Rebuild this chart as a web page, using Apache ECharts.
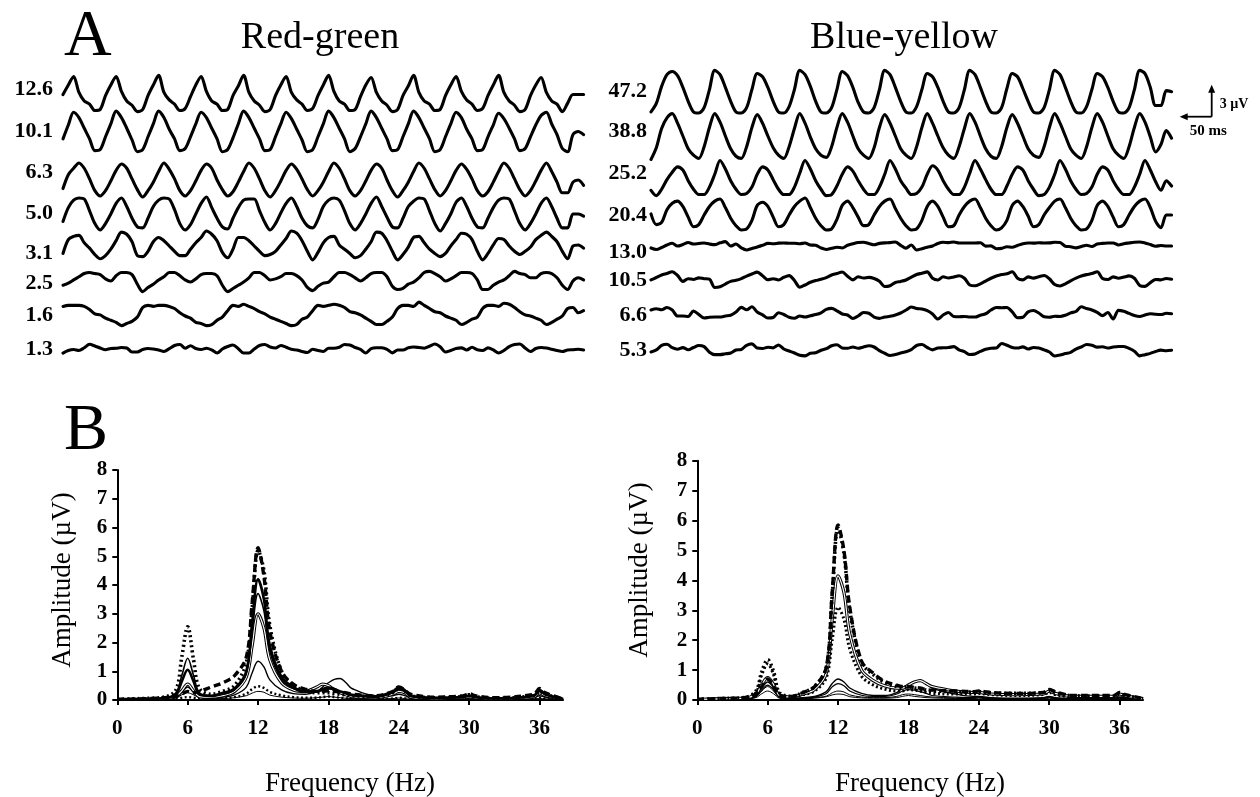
<!DOCTYPE html>
<html><head><meta charset="utf-8">
<script src="https://cdn.jsdelivr.net/npm/echarts@6.0.0/dist/echarts.min.js"></script>
<style>html,body{margin:0;padding:0;background:#fff}#c{width:1260px;height:797px}</style>
</head><body><div id="c"></div>
<script>
// ---------- Panel A : steady-state VEP traces (µV), one sample every 8.3 ms ----------
const sampleStepMs = 8.3;
const rgContrastLabels = ['12.6','10.1','6.3','5.0','3.1','2.5','1.6','1.3'];
const byContrastLabels = ['47.2','38.8','25.2','20.4','13.0','10.5','6.6','5.3'];

const rg126 = [-0.1,0.8,
1.6,0.1,-0.7,-1.0,-1.6,-1.5,-0.2,0.8, 1.6,0.2,-0.7,-1.1,-1.7,-1.5,-0.2,0.8,
1.7,0.1,-0.6,-1.0,-1.6,-1.4,-0.3,0.8, 1.6,0.2,-0.7,-1.0,-1.6,-1.5,-0.2,0.7,
1.7,0.1,-0.7,-1.1,-1.7,-1.5,-0.2,0.8, 1.6,0.1,-0.6,-1.0,-1.6,-1.4,-0.2,0.8,
1.7,0.2,-0.7,-1.0,-1.6,-1.5,-0.3,0.8, 1.5,0.1,-0.7,-1.1,-1.7,-1.5,-0.2,0.7,
1.7,0.1,-0.7,-1.0,-1.6,-1.5,-0.2,0.8, 1.6,0.2,-0.6,-1.0,-1.6,-1.4,-0.2,0.8,
1.7,0.1,-0.7,-1.1,-1.7,-1.5,-0.2,0.8,
1.5,0.1,-0.7,-1.0,-1.7,-0.9,-0.1,-0.1,-0.1];
const rg101 = [-0.6,0.7,
1.9,1.4,0.4,-0.6,-1.7,-1.6,-0.4,0.8, 2.0,1.4,0.4,-0.7,-1.8,-1.6,-0.4,0.8,
2.0,1.4,0.3,-0.6,-1.7,-1.5,-0.4,0.8, 1.9,1.4,0.4,-0.6,-1.8,-1.6,-0.5,0.8,
2.0,1.4,0.4,-0.6,-1.7,-1.6,-0.4,0.8, 1.9,1.3,0.3,-0.7,-1.8,-1.6,-0.4,0.8,
2.0,1.4,0.4,-0.6,-1.8,-1.5,-0.4,0.8, 2.0,1.4,0.4,-0.6,-1.7,-1.6,-0.4,0.8,
2.0,1.4,0.4,-0.6,-1.8,-1.6,-0.4,0.8, 1.9,1.4,0.3,-0.6,-1.7,-1.6,-0.4,0.7,
1.8,1.3,0.4,-0.6,-1.7,-1.5,-0.4,0.7,
1.6,1.9,0.8,-0.2,-1.5,-1.8,-0.2,0.1,-0.2];
const rg63 = [-0.8,0.5,1.1,
1.6,1.1,0.1,-1.0,-1.5,-1.0,-0.1,0.9, 1.5,1.1,0.1,-0.9,-1.6,-1.0,-0.2,0.8,
1.6,1.0,0.1,-1.0,-1.5,-1.0,-0.1,0.9, 1.5,1.1,0.0,-0.9,-1.5,-1.1,-0.2,0.8,
1.6,1.1,0.1,-1.0,-1.6,-1.0,-0.1,0.9, 1.5,1.0,0.1,-0.9,-1.5,-1.0,-0.2,0.8,
1.6,1.1,0.1,-1.0,-1.5,-1.0,-0.1,0.9, 1.5,1.1,0.0,-1.0,-1.6,-1.0,-0.2,0.8,
1.6,1.1,0.1,-0.9,-1.5,-1.0,-0.1,0.9, 1.5,1.0,0.1,-1.0,-1.5,-1.1,-0.2,0.8,
1.6,1.1,0.1,-0.9,-1.5,-1.0,-0.1,0.9,
1.6,0.8,-0.2,-1.2,-1.2,-0.2,0.0,-0.5];
const rg50 = [-0.7,0.6,1.3,
1.5,1.4,0.3,-0.9,-1.5,-0.9,0.0,1.0,1.5,0.7,-0.4,-1.2,-1.3,-0.4,0.7,1.3,
1.5,1.4,0.4,-0.9,-1.5,-1.0,0.0,1.0,1.6,0.6,-0.4,-1.2,-1.4,-0.4,0.6,1.3,
1.4,1.4,0.3,-0.8,-1.5,-0.9,0.1,1.0,1.5,0.7,-0.4,-1.1,-1.3,-0.5,0.7,1.3,
1.5,1.3,0.3,-0.9,-1.5,-0.9,0.0,1.0,1.6,0.7,-0.3,-1.2,-1.3,-0.4,0.7,1.2,
1.5,1.4,0.3,-0.9,-1.6,-0.9,0.0,1.1,1.5,0.7,-0.4,-1.2,-1.3,-0.4,0.6,1.3,
1.5,1.4,0.3,-0.9,-1.5,-0.9,0.0,1.0,
1.5,0.7,-0.4,-1.3,-1.3,0.0,0.0,-0.2];
const rg31 = [-0.7,0.6,0.9,1.0,0.3,-0.2,-0.8,-1.2,-0.9,-0.3,
0.5,1.3,1.1,0.4,-0.9,-1.0,-0.5,0.4,0.8,0.5,
0.0,-0.5,-0.9,-0.9,-0.3,0.3,0.8,1.4,1.1,0.5,
-0.6,-1.1,-0.3,0.8,0.8,0.5,0.0,-0.5,-0.9,-0.8,
-0.5,0.1,0.7,1.4,1.2,0.5,-0.5,-1.3,-0.6,0.3,
0.8,0.9,0.1,-0.3,-0.7,-1.1,-0.9,-0.3,0.4,1.3,
1.2,0.5,-0.5,-1.3,-0.8,-0.1,0.8,0.9,0.3,-0.3,
-0.7,-1.0,-0.7,0.0,0.6,1.2,1.1,0.6,-0.5,-1.3,
-0.7,0.1,0.7,0.6,0.0,-0.5,-0.8,-0.5,-0.1,0.6,
1.0,1.3,0.9,0.4,-0.5,-1.2,0.0,0.1,-0.2];
const rg25 = [-0.4,-0.2,0.1,0.4,0.7,0.8,0.7,0.6,0.2,0,
0.5,0.8,0.8,0.6,-0.3,-1.0,-0.6,-0.3,0.1,0.4,
0.8,0.8,0.5,0.1,-0.1,0.2,0.6,0.7,0.7,0.5,
-0.4,-1.0,-0.7,-0.4,-0.1,0.3,0.8,0.8,0.5,0.1,
0.2,0.4,0.7,0.7,0.5,0.1,-0.6,-0.9,-0.5,-0.2,
-0.1,0.4,0.8,0.8,0.6,0.3,0,0.3,0.7,0.8,
0.8,0.4,-0.5,-0.8,-0.7,-0.3,-0.1,0.3,0.8,0.9,
0.7,0.4,0,0.2,0.5,0.8,0.8,0.7,0.1,-0.8,
-0.8,-0.4,-0.1,0.1,0.5,0.9,0.7,0.6,0.3,0.3,
0.7,0.8,0.7,0.3,-0.4,-0.8,0,0.3,0.1];
const rg16 = [0.9,1.0,1.0,1.0,0.9,0.6,0.2,0.1,-0.2,-0.4,
-0.6,-0.9,-0.7,-0.5,-0.1,0.8,1.0,0.9,1.0,1.0,
0.9,0.7,0.3,0,-0.2,-0.6,-0.7,-0.9,-0.8,-0.4,
-0.1,0.5,1.0,0.9,1.1,0.9,0.7,0.4,0.2,-0.1,
-0.3,-0.5,-0.7,-0.9,-0.8,-0.3,-0.1,0.5,1.0,0.9,
1.0,1.1,1.0,0.8,0.4,0.3,0.1,-0.2,-0.5,-0.8,
-0.8,-0.5,-0.1,0.7,1.0,1.0,0.9,1.3,1.0,0.7,
0.4,0.3,0,-0.2,-0.4,-0.8,-0.6,-0.3,-0.1,0.7,
1.0,1.0,0.9,1.2,1.1,0.8,0.4,0.1,0,-0.2,
-0.4,-0.8,-0.6,-0.3,0,0.7,0.8,0.3,0.5];
const rg13 = [-0.38,-0.14,-0.05,-0.14,0.12,0.44,0.28,0.09,-0.07,0.05,
0.07,0.14,0.09,-0.28,-0.28,-0.05,0.05,0,-0.09,-0.23,
0.03,0.33,0.42,0.07,0.31,0.05,-0.05,0.07,-0.09,-0.38,
0,0.23,0.38,0.03,-0.38,-0.38,0,0.33,0.42,0.19,
0.09,0.33,0.17,-0.03,-0.09,-0.23,-0.33,-0.03,-0.14,-0.23,
0.07,0.07,0.17,0.42,0.38,0.14,-0.03,-0.38,0.03,0.12,
0.11,-0.03,-0.36,-0.09,-0.09,0.11,0.19,0.14,0.07,0.26,
0.47,0.21,-0.28,-0.14,0.05,0.11,-0.09,0.16,-0.07,-0.14,
0.11,-0.09,-0.38,-0.14,0.23,0.42,0.47,0.09,-0.23,0.05,
0.14,0.09,-0.02,-0.14,-0.23,-0.09,-0.07,-0.03,-0.09];

const by472 = [-1.9,-1.1,0.5,1.6,
1.9,1.5,0.4,-0.9,-1.9,-2.0,-1.5,0.2, 2.0,1.6,0.4,-0.9,-1.9,-2.0,-1.5,0.2,
1.7,1.4,0.4,-0.9,-1.9,-2.0,-1.4,0.2, 2.0,1.6,0.5,-0.9,-1.9,-2.0,-1.5,0.2,
1.9,1.5,0.4,-1.0,-1.9,-2.0,-1.5,0.2, 2.0,1.6,0.4,-0.9,-1.9,-2.0,-1.4,0.2,
1.7,1.4,0.4,-0.9,-1.9,-2.0,-1.5,0.2, 2.0,1.6,0.4,-0.9,-1.9,-2.0,-1.5,0.3,
1.7,1.4,0.3,-0.9,-1.9,-2.0,-1.5,0.2, 2.0,1.6,0.4,-0.9,-1.9,-2.0,-1.4,0.2,
1.7,1.4,0.4,-0.9,-1.9,-2.0,-1.5,0.2,
2.0,1.7,0.4,-1.3,-1.3,0.1,0.0];
const by388 = [-2.2,-1.1,0.7,1.7,
2.1,1.2,0.0,-1.2,-1.8,-2.1,-1.0,0.8, 2.1,1.3,0.0,-1.2,-1.9,-2.1,-1.0,0.8,
2.0,1.2,0.0,-1.1,-1.8,-2.1,-1.0,0.7, 2.1,1.2,-0.1,-1.2,-1.8,-2.0,-1.0,0.8,
2.1,1.3,0.0,-1.2,-1.8,-2.1,-1.1,0.8, 2.0,1.2,0.0,-1.2,-1.8,-2.1,-1.0,0.8,
2.1,1.2,0.0,-1.1,-1.8,-2.1,-1.0,0.7, 2.1,1.3,0.0,-1.2,-1.9,-2.1,-1.0,0.8,
2.0,1.2,0.0,-1.2,-1.8,-2.0,-1.0,0.8, 2.1,1.2,0.0,-1.2,-1.8,-2.1,-1.0,0.8,
2.1,1.3,0.0,-1.2,-1.8,-2.1,-1.0,0.8,
2.1,1.3,-0.1,-1.5,-0.8,0.5,-0.2];
const by252 = [-1.2,-1.7,-1.1,-0.2,0.5,
1.0,0.7,-0.3,-1.1,-1.6,-1.6,-0.9,0.3, 1.6,0.8,-0.3,-1.1,-1.6,-1.5,-0.9,0.3,
1.0,0.7,-0.2,-1.1,-1.6,-1.6,-0.9,0.4, 1.6,0.8,-0.3,-1.1,-1.7,-1.6,-0.8,0.3,
1.0,0.6,-0.3,-1.1,-1.6,-1.6,-0.9,0.3, 1.6,0.8,-0.3,-1.0,-1.6,-1.5,-0.9,0.3,
1.1,0.7,-0.3,-1.1,-1.6,-1.6,-0.9,0.4, 1.6,0.8,-0.2,-1.1,-1.6,-1.6,-0.8,0.3,
1.0,0.7,-0.3,-1.1,-1.7,-1.6,-0.9,0.3, 1.6,0.8,-0.3,-1.1,-1.6,-1.5,-0.9,0.3,
1.0,0.7,-0.3,-1.1,-1.6,-1.6,-0.9,0.3,
1.6,0.7,-0.4,-1.2,-0.3,-0.8];
const by204 = [0.1,-0.9,-0.7,0.5,1.1,
1.3,0.8,-0.2,-1.1,-0.9,0.0,0.8,1.3,1.5,0.7,-0.3,-1.0,-1.4,-1.3,-0.5,0.9,
1.2,0.8,-0.2,-1.1,-0.9,0.0,0.8,1.3,1.6,0.7,-0.3,-1.0,-1.4,-1.3,-0.4,0.9,
1.3,0.7,-0.2,-1.0,-0.9,0.0,0.8,1.3,1.5,0.6,-0.3,-1.0,-1.4,-1.3,-0.5,0.8,
1.3,0.8,-0.2,-1.1,-1.0,0.0,0.8,1.3,1.5,0.7,-0.3,-1.0,-1.4,-1.2,-0.5,0.9,
1.3,0.8,-0.1,-1.1,-0.9,0.0,0.7,1.3,1.5,0.7,-0.3,-1.0,-1.4,-1.3,-0.5,0.9,
1.3,0.8,-0.2,-1.1,-0.9,0.0,0.8,1.3,1.5,0.7,-0.6,
-1.2,0.0,0.0];
const by130 = [-0.09,-0.23,-0.05,0.19,0.35,0.09,0.23,0.42,0.28,0.33,
0.38,0.28,0.22,0.39,0.5,0.09,0.28,-0.09,-0.28,-0.14,
0,0.16,0.34,0.3,0.36,0.38,0.35,0.35,0.3,0.38,
0.19,0.16,-0.09,-0.23,-0.12,-0.02,-0.09,0.16,0.3,0.42,
0.45,0.33,0.21,0.34,0.39,0.41,0.47,0.16,-0.11,0.19,
-0.28,-0.16,-0.02,0.09,0.33,0.44,0.41,0.47,0.38,0.38,
0.38,0.37,0.4,0.08,0.11,-0.16,-0.13,0.02,-0.03,0.14,
0.31,0.38,0.36,0.4,0.38,0.39,0.44,0.42,0.07,0.03,
-0.08,0.04,0.17,0.04,0.28,0.34,0.37,0.38,0.19,0.31,
0.38,0.44,0.47,0.38,0.23,0.07,0.14,0.09,0.09];
const by105 = [-0.09,0.14,0.38,0.52,0.68,0.33,-0.22,0.03,-0.05,0.11,
0.03,-0.02,-0.8,-0.73,-0.47,-0.22,-0.12,0.04,0.27,0.47,
0.64,0.31,-0.07,0.03,-0.09,0.16,0.32,-0.14,-0.77,-0.56,
-0.31,-0.15,-0.03,0.13,0.38,0.51,0.66,0.25,-0.08,0.21,
0.09,0.15,0.05,-0.21,-0.7,-0.63,-0.33,-0.23,-0.09,0.17,
0.42,0.54,0.67,0.07,-0.09,0.21,0.09,0.19,0.31,0.07,
-0.56,-0.63,-0.45,-0.19,0.07,0.28,0.42,0.49,0.68,0.07,
-0.08,0.2,0.08,0.21,0.33,0.02,-0.52,-0.65,-0.45,-0.17,
0.08,0.28,0.41,0.51,0.68,0.05,-0.05,0.2,0.07,0.18,
0.29,0.07,-0.6,-0.69,-0.34,-0.04,-0.08,0.05,-0.02];
const by66 = [0.28,0.4,0.3,0.52,0.28,-0.28,-0.28,-0.33,0.19,-0.14,
-0.47,-0.4,-0.38,-0.38,-0.28,-0.21,0.09,0.53,0.3,0.59,
0.09,-0.17,-0.47,-0.42,0.03,-0.14,-0.4,-0.49,-0.28,-0.38,
-0.26,-0.15,0.02,0.34,0.43,0.21,-0.09,-0.19,-0.52,-0.28,
0.05,-0.02,-0.38,-0.5,-0.38,-0.31,-0.19,0,0.28,0.56,
0.42,0.38,0.23,-0.09,-0.56,-0.19,0.05,-0.33,-0.35,-0.33,
-0.37,-0.38,-0.21,-0.07,0.28,0.52,0.49,0.51,0.11,-0.44,
-0.4,0.11,0.23,0,-0.36,-0.4,-0.31,-0.33,-0.21,0.01,
0.14,0.58,0.42,0.28,0.05,-0.25,0.05,-0.56,0.25,0.16,
-0.04,-0.24,-0.33,-0.19,-0.07,-0.12,-0.14,-0.03,-0.07];
const by53 = [-0.28,-0.08,0.33,0.44,0.12,-0.03,0.13,-0.07,0.14,0.33,
0.22,-0.3,-0.53,-0.53,-0.45,-0.38,-0.09,-0.04,0.35,0.48,
0.09,0.05,0.16,0.11,0.38,0,-0.19,-0.38,-0.59,-0.64,
-0.4,-0.36,-0.12,0.03,0.3,0.4,0.1,0.07,0.19,0.07,
0.19,0.31,0.19,-0.16,-0.4,-0.61,-0.52,-0.38,-0.26,-0.06,
0.33,0.42,0.14,-0.08,0.09,0.11,0.14,0.22,-0.08,-0.25,
-0.52,-0.47,-0.23,-0.03,0.07,0.09,0.52,0.35,0.15,0.09,
0.2,0,0.14,0.09,-0.08,-0.28,-0.66,-0.56,-0.43,-0.31,
-0.01,0.19,0.42,0.36,0.18,0.21,0.09,0.19,0.24,0.23,
0.06,-0.21,-0.64,-0.53,-0.41,-0.23,-0.11,-0.16,-0.12];

const rgTraces = [rg126, rg101, rg63, rg50, rg31, rg25, rg16, rg13];
const byTraces = [by472, by388, by252, by204, by130, by105, by66, by53];

// ---------- Panel B : amplitude spectra (µV) ----------
const freqHz = [0,2,4,5,5.5,6,6.5,7,8,9,10,11,11.5,12,12.5,13,14,15,16,17,17.5,18,18.5,19,19.5,20,22,23.5,24,24.5,25,27,29.5,30,30.5,32,35.5,36,36.5,38];
const freqTicks = [0,6,12,18,24,30,36];
const ampTicks = [0,1,2,3,4,5,6,7,8];

const rgSpec126 = [0.02,0.04,0.08,0.12,0.2,0.3,0.25,0.3,0.45,0.6,0.85,1.5,3.4,5.3,4.3,2.4,1.0,0.55,0.38,0.3,0.3,0.32,0.3,0.28,0.25,0.2,0.15,0.3,0.45,0.35,0.2,0.1,0.15,0.22,0.15,0.08,0.2,0.4,0.25,0.04];
const rgSpec101 = [0.02,0.05,0.1,0.35,1.5,2.55,1.4,0.4,0.2,0.3,0.5,1.3,3.2,5.2,4.5,2.6,1.0,0.5,0.32,0.25,0.25,0.25,0.22,0.2,0.18,0.15,0.12,0.25,0.4,0.3,0.15,0.08,0.12,0.18,0.12,0.06,0.15,0.3,0.2,0.03];
const rgSpec63 = [0.02,0.03,0.06,0.2,0.65,1.05,0.65,0.2,0.15,0.25,0.4,1.0,2.7,4.2,3.5,1.9,0.8,0.45,0.3,0.3,0.35,0.4,0.38,0.3,0.25,0.18,0.12,0.3,0.45,0.35,0.15,0.08,0.1,0.15,0.1,0.05,0.15,0.35,0.2,0.03];
const rgSpec50 = [0.02,0.03,0.05,0.25,0.85,1.45,0.85,0.25,0.12,0.2,0.35,0.9,2.4,3.7,3.1,1.7,0.7,0.4,0.28,0.3,0.4,0.45,0.4,0.3,0.22,0.15,0.1,0.25,0.38,0.3,0.12,0.06,0.1,0.15,0.1,0.05,0.12,0.3,0.18,0.03];
const rgSpec31 = [0.02,0.03,0.05,0.12,0.32,0.55,0.32,0.12,0.1,0.15,0.3,0.8,1.9,3.0,2.5,1.4,0.6,0.35,0.3,0.45,0.55,0.5,0.35,0.25,0.18,0.12,0.08,0.2,0.3,0.25,0.1,0.05,0.08,0.12,0.08,0.04,0.1,0.25,0.15,0.02];
const rgSpec25 = [0.02,0.03,0.04,0.1,0.27,0.45,0.27,0.1,0.08,0.1,0.18,0.45,0.95,1.35,1.15,0.7,0.35,0.22,0.2,0.3,0.45,0.6,0.72,0.75,0.6,0.4,0.15,0.15,0.2,0.15,0.08,0.05,0.06,0.1,0.06,0.03,0.08,0.15,0.1,0.02];
const rgSpec16 = [0.02,0.02,0.03,0.05,0.08,0.1,0.08,0.05,0.05,0.06,0.1,0.22,0.38,0.48,0.42,0.28,0.16,0.1,0.08,0.08,0.1,0.12,0.1,0.08,0.06,0.05,0.04,0.05,0.08,0.06,0.04,0.03,0.04,0.06,0.04,0.02,0.04,0.08,0.05,0.01];
const rgSpec13 = [0.01,0.02,0.03,0.08,0.18,0.25,0.18,0.08,0.05,0.05,0.08,0.15,0.24,0.3,0.27,0.17,0.1,0.07,0.06,0.08,0.1,0.12,0.1,0.08,0.06,0.05,0.04,0.05,0.07,0.05,0.03,0.02,0.03,0.05,0.03,0.02,0.03,0.06,0.04,0.01];

const bySpec472 = [0.02,0.05,0.08,0.2,0.45,0.7,0.45,0.15,0.12,0.25,0.45,1.1,3.6,5.85,5.0,3.1,1.3,0.9,0.62,0.5,0.45,0.45,0.42,0.4,0.35,0.33,0.3,0.28,0.3,0.28,0.25,0.22,0.25,0.35,0.28,0.15,0.15,0.25,0.18,0.05];
const bySpec388 = [0.02,0.05,0.08,0.3,0.95,1.35,0.95,0.25,0.12,0.25,0.45,1.1,3.5,5.75,4.9,3.0,1.25,0.85,0.58,0.45,0.42,0.45,0.4,0.38,0.33,0.3,0.28,0.26,0.28,0.26,0.24,0.22,0.25,0.33,0.25,0.14,0.13,0.2,0.15,0.04];
const bySpec252 = [0.02,0.04,0.06,0.2,0.52,0.75,0.52,0.15,0.1,0.2,0.35,0.9,2.7,4.15,3.6,2.2,1.0,0.65,0.47,0.4,0.4,0.5,0.6,0.65,0.55,0.45,0.3,0.25,0.25,0.23,0.2,0.18,0.2,0.3,0.22,0.12,0.12,0.2,0.14,0.04];
const bySpec204 = [0.02,0.04,0.06,0.25,0.85,1.2,0.85,0.2,0.1,0.18,0.3,0.75,2.0,3.1,2.7,1.7,0.8,0.5,0.36,0.3,0.3,0.35,0.33,0.3,0.26,0.22,0.2,0.2,0.22,0.2,0.18,0.15,0.18,0.25,0.18,0.1,0.1,0.18,0.12,0.03];
const bySpec130 = [0.02,0.03,0.05,0.15,0.42,0.6,0.42,0.12,0.06,0.08,0.12,0.28,0.55,0.7,0.6,0.4,0.22,0.15,0.15,0.25,0.4,0.5,0.6,0.65,0.55,0.4,0.2,0.12,0.12,0.1,0.08,0.06,0.08,0.12,0.08,0.05,0.06,0.1,0.07,0.02];
const bySpec105 = [0.02,0.03,0.04,0.12,0.34,0.5,0.34,0.1,0.05,0.06,0.1,0.22,0.44,0.55,0.48,0.3,0.16,0.12,0.12,0.2,0.3,0.35,0.33,0.28,0.22,0.15,0.1,0.08,0.1,0.08,0.06,0.05,0.06,0.1,0.06,0.04,0.05,0.08,0.06,0.02];
const bySpec66 = [0.01,0.02,0.04,0.1,0.3,0.45,0.3,0.08,0.04,0.05,0.08,0.13,0.24,0.3,0.27,0.17,0.1,0.08,0.08,0.12,0.18,0.2,0.18,0.15,0.12,0.1,0.07,0.06,0.08,0.06,0.05,0.04,0.05,0.08,0.05,0.03,0.04,0.07,0.05,0.01];
const bySpec53 = [0.01,0.02,0.03,0.08,0.21,0.3,0.21,0.06,0.03,0.04,0.06,0.11,0.17,0.2,0.18,0.11,0.07,0.06,0.06,0.08,0.12,0.15,0.12,0.1,0.08,0.07,0.05,0.05,0.06,0.05,0.04,0.03,0.04,0.06,0.04,0.02,0.03,0.05,0.04,0.01];

const rgSpectra = [rgSpec126, rgSpec101, rgSpec63, rgSpec50, rgSpec31, rgSpec25, rgSpec16, rgSpec13];
const bySpectra = [bySpec472, bySpec388, bySpec252, bySpec204, bySpec130, bySpec105, bySpec66, bySpec53];

// ---------- layout & style (kept apart from the data) ----------
const SERIF = '"Liberation Serif","Times New Roman",serif';
const INK = '#000';
const pxPerMs = 32 / 50;      // scale bar: 50 ms
const pxPerUV = 32 / 3;       // scale bar: 3 µV
const traceHalfUV = 3;
const columns = [
  { traces: rgTraces, labels: rgContrastLabels, x0: 63, centers: [93.5,132.5,180,214,246,281,316,349],
    labelX: 53, labelY: [89,131.7,172.7,213,253,283,315,349] },
  { traces: byTraces, labels: byContrastLabels, x0: 651, centers: [91.7,136,177.5,215,247,279,313,349],
    labelX: 647, labelY: [91.7,131.7,173.3,215,252.7,280,315,350] }
];
const specPanels = [
  { data: rgSpectra, left: 117.3, top: 470, height: 230, maxHz: 38 },
  { data: bySpectra, left: 697.3, top: 460.7, height: 239.3, maxHz: 38 }
];
const pxPerHz = 11.73;
const specStylesRG = [
  {type:[7,4], width:3.4}, {type:[2,3], width:3.6}, {type:'solid', width:2.6}, {type:'solid', width:1.6},
  {type:'solid', width:3.2, hollow:true}, {type:'solid', width:1.4}, {type:[2,2.5], width:2.4}, {type:'solid', width:1.0}
];
const specStylesBY = [
  {type:[7,4], width:3.4}, {type:[2,3], width:3.6}, {type:'solid', width:3.2, hollow:true}, {type:[2,2.5], width:3.0},
  {type:'solid', width:1.4}, {type:'solid', width:1.2}, {type:'solid', width:1.0}, {type:'solid', width:1.0}
];

const grids = [], xAxes = [], yAxes = [], series = [], graphics = [];
const nSamples = rg126.length;
const traceWidth = (nSamples - 1) * sampleStepMs * pxPerMs;
const traceHalfPx = traceHalfUV * pxPerUV;

const textStyle = (text, x, y, font, align) => ({ text, x, y, font, fill: INK, align, verticalAlign: 'middle',
  textAlign: align, textVerticalAlign: 'middle' });

columns.forEach((col) => {
  col.traces.forEach((vals, j) => {
    const gi = grids.length;
    grids.push({ left: col.x0, top: col.centers[j] - traceHalfPx, width: traceWidth, height: 2 * traceHalfPx });
    xAxes.push({ type: 'value', gridIndex: gi, min: 0, max: (nSamples - 1) * sampleStepMs, show: false });
    yAxes.push({ type: 'value', gridIndex: gi, min: -traceHalfUV, max: traceHalfUV, show: false });
    series.push({
      type: 'line', xAxisIndex: gi, yAxisIndex: gi, silent: true, showSymbol: false, smooth: 0.3,
      lineStyle: { color: INK, width: 3.1, join: 'round', cap: 'round' },
      data: vals.map((v, i) => [i * sampleStepMs, v])
    });
    graphics.push({ type: 'text', style: textStyle(col.labels[j], col.labelX, col.labelY[j], 'bold 22px ' + SERIF, 'right') });
  });
});

specPanels.forEach((p, pi) => {
  const gi = grids.length;
  grids.push({ left: p.left, top: p.top, width: p.maxHz * pxPerHz, height: p.height });
  const axisLine = { show: true, lineStyle: { color: INK, width: 2 } };
  const lbl = { color: INK, fontFamily: SERIF, fontWeight: 'bold', fontSize: 21 };
  xAxes.push({ type: 'value', gridIndex: gi, min: 0, max: p.maxHz, interval: 6,
    axisLine, splitLine: { show: false },
    axisTick: { show: true, length: 5, lineStyle: { color: INK, width: 2 }, customValues: freqTicks },
    axisLabel: Object.assign({ margin: 18, customValues: freqTicks }, lbl) });
  yAxes.push({ type: 'value', gridIndex: gi, min: 0, max: 8, interval: 1,
    axisLine, splitLine: { show: false },
    axisTick: { show: true, length: 5, lineStyle: { color: INK, width: 2 }, customValues: ampTicks },
    axisLabel: Object.assign({ margin: 10, customValues: ampTicks }, lbl) });
  const styles = pi === 0 ? specStylesRG : specStylesBY;
  p.data.forEach((vals, k) => {
    const st = styles[k];
    const data = vals.map((v, i) => [freqHz[i], v]);
    series.push({
      type: 'line', xAxisIndex: gi, yAxisIndex: gi, silent: true, showSymbol: false, smooth: 0.35,
      lineStyle: { color: INK, type: st.type, width: st.width }, z: 20 - 2 * k, data
    });
    if (st.hollow) {
      series.push({
        type: 'line', xAxisIndex: gi, yAxisIndex: gi, silent: true, showSymbol: false, smooth: 0.35,
        lineStyle: { color: '#fff', type: 'solid', width: st.width - 2 }, z: 21 - 2 * k, data
      });
    }
  });
});

// titles and panel letters
graphics.push(
  { type: 'text', style: textStyle('A', 64, 38, '66px ' + SERIF, 'left') },
  { type: 'text', style: textStyle('Red-green', 320, 38, '38px ' + SERIF, 'center') },
  { type: 'text', style: textStyle('Blue-yellow', 904, 38, '38px ' + SERIF, 'center') },
  { type: 'text', style: textStyle('B', 64, 432, '66px ' + SERIF, 'left') },
  { type: 'text', style: textStyle('Frequency (Hz)', 350, 784, '27px ' + SERIF, 'center') },
  { type: 'text', style: textStyle('Frequency (Hz)', 920, 784, '27px ' + SERIF, 'center') },
  { type: 'text', x: 63, y: 580, rotation: Math.PI / 2, style: textStyle('Amplitude (µV)', 0, 0, '27px ' + SERIF, 'center') },
  { type: 'text', x: 640, y: 570, rotation: Math.PI / 2, style: textStyle('Amplitude (µV)', 0, 0, '27px ' + SERIF, 'center') }
);

const chart = echarts.init(document.getElementById('c'), null, { renderer: 'canvas' });
chart.setOption({ animation: false, backgroundColor: '#fff', grid: grids, xAxis: xAxes, yAxis: yAxes, series, graphic: graphics });

// scale bar sized through the axes of the first blue-yellow trace
const refGrid = 8;
const o = chart.convertToPixel({ gridIndex: refGrid }, [0, 0]);
const tx = chart.convertToPixel({ gridIndex: refGrid }, [50, 0]);
const ty = chart.convertToPixel({ gridIndex: refGrid }, [0, 3]);
const dx = tx[0] - o[0], dy = o[1] - ty[1];
const cx = 1211.7, cy = 116.7;
graphics.push(
  { type: 'line', shape: { x1: cx, y1: cy, x2: cx, y2: cy - dy + 6 }, style: { stroke: INK, lineWidth: 1.8 } },
  { type: 'polygon', shape: { points: [[cx, cy - dy], [cx - 3.5, cy - dy + 8], [cx + 3.5, cy - dy + 8]] }, style: { fill: INK } },
  { type: 'line', shape: { x1: cx, y1: cy, x2: cx - dx + 6, y2: cy }, style: { stroke: INK, lineWidth: 1.8 } },
  { type: 'polygon', shape: { points: [[cx - dx, cy], [cx - dx + 8, cy - 3.5], [cx - dx + 8, cy + 3.5]] }, style: { fill: INK } },
  { type: 'text', style: textStyle('3 µV', cx + 8, cy - 12, 'bold 14px ' + SERIF, 'left') },
  { type: 'text', style: textStyle('50 ms', cx - 22, cy + 14, 'bold 15px ' + SERIF, 'left') }
);
chart.setOption({ graphic: graphics });
</script>
</body></html>
